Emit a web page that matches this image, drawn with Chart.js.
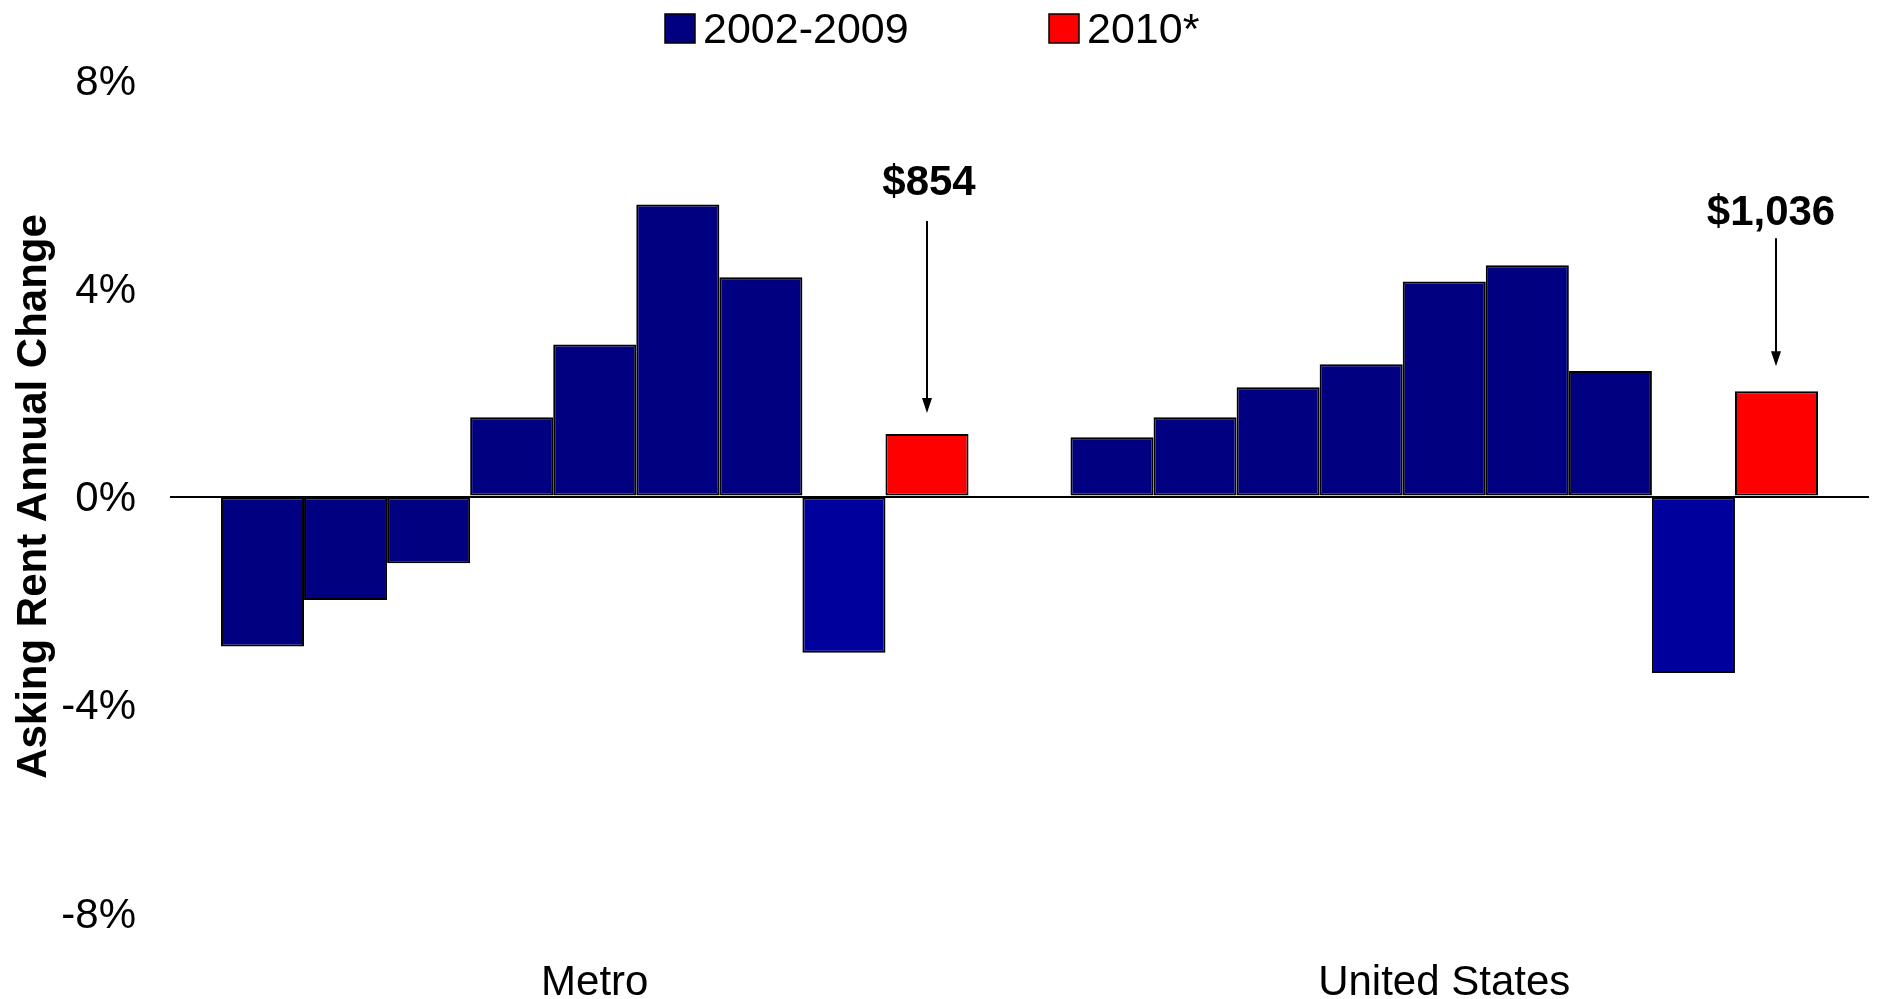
<!DOCTYPE html>
<html>
<head>
<meta charset="utf-8">
<title>Asking Rent Annual Change</title>
<script src="https://cdn.jsdelivr.net/npm/chart.js@4.4.1/dist/chart.umd.min.js"></script>
<style>
  html, body { margin: 0; padding: 0; background: #fff; }
  canvas { display: block; }
</style>
</head>
<body>
<canvas id="rentChart" width="1878" height="999"></canvas>
<script>
// categories and series
const regions = ["Metro", "United States"]
const years = ["2002", "2003", "2004", "2005", "2006", "2007", "2008", "2009", "2010"]
const metroChange = [-2.88, -1.99, -1.28, 1.52, 2.92, 5.61, 4.21, -3.0, 1.2]
const usChange = [1.14, 1.52, 2.1, 2.54, 4.13, 4.44, 2.41, -3.39, 2.02]
const rentLabels = ["$854", "$1,036"]
const legendLabels = ["2002-2009", "2010*"]
const yTicks = [-8, -4, 0, 4, 8]

const NAVY = "#000080"
const BLUE_2009 = "#00009c"
const RED = "#ff0000"
const FONT = "'Liberation Sans', Arial, sans-serif"

Chart.defaults.font.family = FONT
Chart.defaults.color = "#000"

const barColor = (year) => {
  if (year === "2010") return RED
  if (year === "2009") return BLUE_2009
  return NAVY
}

const datasets = years.map((year, i) => ({
  label: year,
  data: [metroChange[i], usChange[i]],
  backgroundColor: barColor(year),
  borderColor: "#000",
  borderWidth: 2,
  borderSkipped: false,
  categoryPercentage: 0.88,
  barPercentage: 1.0,
}))

// two-entry legend across the top
const topLegend = {
  id: "topLegend",
  afterDraw(chart) {
    const ctx = chart.ctx
    const items = [
      { x: 665, color: NAVY, text: legendLabels[0] },
      { x: 1049, color: RED, text: legendLabels[1] },
    ]
    ctx.save()
    ctx.font = "43px " + FONT
    ctx.textBaseline = "middle"
    ctx.textAlign = "left"
    items.forEach((item) => {
      ctx.fillStyle = item.color
      ctx.fillRect(item.x, 14, 30, 29)
      ctx.strokeStyle = "#000"
      ctx.lineWidth = 1.5
      ctx.strokeRect(item.x, 14, 30, 29)
      ctx.fillStyle = "#000"
      ctx.fillText(item.text, item.x + 38, 31)
    })
    ctx.restore()
  },
}

// rent level callouts with arrows pointing at the 2010 bars
const calloutStyle = [
  { dx: 2, textUp: 251, lineUp: 213, tipUp: 21 },
  { dx: -5, textUp: 178, lineUp: 153, tipUp: 25 },
]

const rentCallouts = {
  id: "rentCallouts",
  afterDatasetsDraw(chart) {
    const ctx = chart.ctx
    const meta = chart.getDatasetMeta(years.length - 1)
    ctx.save()
    meta.data.forEach((bar, i) => {
      const s = calloutStyle[i]
      const x = Math.round(bar.x)
      const top = bar.y
      ctx.fillStyle = "#000"
      ctx.font = "bold 42px " + FONT
      ctx.textAlign = "center"
      ctx.textBaseline = "middle"
      ctx.fillText(rentLabels[i], x + s.dx, top - s.textUp)

      const tipY = top - s.tipUp
      ctx.strokeStyle = "#000"
      ctx.lineWidth = 2
      ctx.beginPath()
      ctx.moveTo(x, top - s.lineUp)
      ctx.lineTo(x, tipY - 14)
      ctx.stroke()
      ctx.beginPath()
      ctx.moveTo(x - 5, tipY - 15)
      ctx.lineTo(x + 5, tipY - 15)
      ctx.lineTo(x, tipY)
      ctx.closePath()
      ctx.fill()
    })
    ctx.restore()
  },
}

new Chart(document.getElementById("rentChart"), {
  type: "bar",
  data: {
    labels: regions,
    datasets: datasets,
  },
  options: {
    responsive: false,
    animation: false,
    layout: {
      padding: { top: 80, right: 9, bottom: 0, left: 0 },
    },
    plugins: {
      legend: { display: false },
      tooltip: { enabled: false },
    },
    scales: {
      x: {
        grid: { display: false },
        border: { display: false },
        ticks: {
          font: { size: 42 },
          padding: 37,
        },
        afterFit: (scale) => {
          scale.height = 86
        },
      },
      y: {
        min: -8,
        max: 8,
        afterBuildTicks: (scale) => {
          scale.ticks = yTicks.map((v) => ({ value: v }))
        },
        ticks: {
          font: { size: 42 },
          padding: 34,
          labelOffset: 3,
          callback: (v) => v + "%",
        },
        grid: {
          drawTicks: false,
          lineWidth: 2,
          color: (c) => (c.tick && c.tick.value === 0 ? "#000" : "rgba(0,0,0,0)"),
        },
        border: { display: false },
        title: {
          display: true,
          text: "Asking Rent Annual Change",
          font: { size: 42, weight: "bold" },
          padding: { top: 9, bottom: 0 },
        },
        afterFit: (scale) => {
          scale.width = 170
        },
      },
    },
  },
  plugins: [topLegend, rentCallouts],
})
</script>
</body>
</html>
